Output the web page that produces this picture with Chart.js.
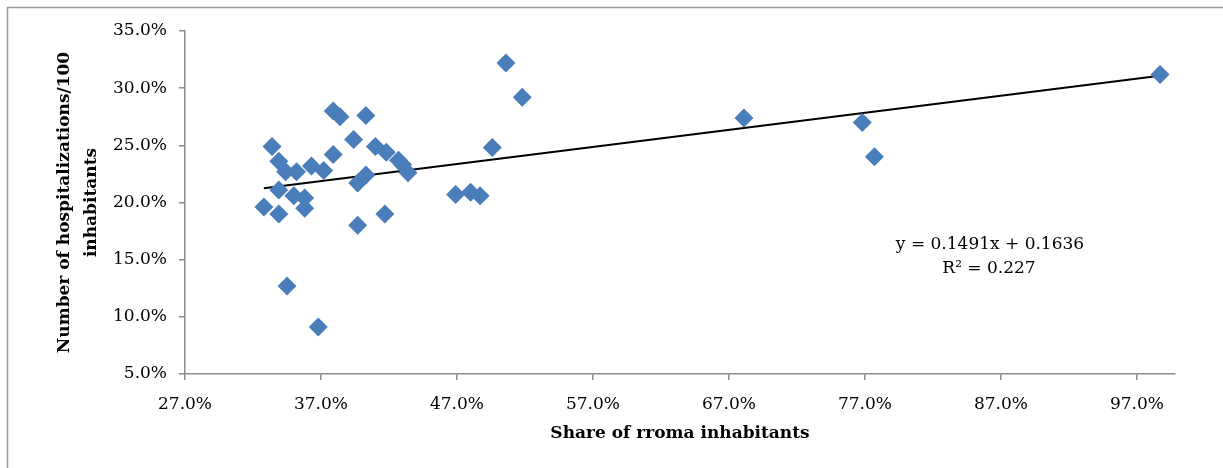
<html>
<head>
    <script src="https://cdn.jsdelivr.net/npm/chart.js@4.4.3/dist/chart.umd.min.js"></script>
    <style>
        body { margin: 0; background: #fff; overflow: hidden; }
        #wrap { width: 1223px; height: 468px; }
    </style>
</head>
<body>
    <div id="wrap"><canvas id="mychart" width="1223" height="468"></canvas></div>
    <script>
        // share of rroma inhabitants (x) and hospitalizations per 100 inhabitants (y)
        romaShare = [0.328, 0.334, 0.339, 0.339, 0.339, 0.344, 0.345, 0.350, 0.352, 0.358,
                     0.358, 0.363, 0.368, 0.372, 0.379, 0.379, 0.384, 0.394, 0.397, 0.397,
                     0.403, 0.403, 0.410, 0.417, 0.418, 0.427, 0.430, 0.434, 0.469, 0.480,
                     0.487, 0.496, 0.506, 0.518, 0.681, 0.768, 0.777, 0.987];
        hospRate = [0.196, 0.249, 0.236, 0.211, 0.190, 0.227, 0.127, 0.206, 0.227, 0.204,
                    0.195, 0.232, 0.091, 0.228, 0.280, 0.242, 0.275, 0.255, 0.180, 0.217,
                    0.224, 0.276, 0.249, 0.190, 0.244, 0.237, 0.233, 0.226, 0.207, 0.209,
                    0.206, 0.248, 0.322, 0.292, 0.274, 0.270, 0.240, 0.312];
        // linear trend line end points (y = 0.1491x + 0.1636)
        trendX = [0.328, 0.987];
        trendY = [0.2125, 0.3108];
        xTicks = [0.27, 0.37, 0.47, 0.57, 0.67, 0.77, 0.87, 0.97];
        yTicks = [0.05, 0.10, 0.15, 0.20, 0.25, 0.30, 0.35];
        eqText = ["y = 0.1491x + 0.1636", "R\u00b2 = 0.227"];

        points = romaShare.map(function (v, i) { return { x: v, y: hospRate[i] }; });
        trend = trendX.map(function (v, i) { return { x: v, y: trendY[i] }; });

        axisGrey = "#8c8c8c";
        serif = "'DejaVu Serif', serif";

        function pct(v) { return (v * 100).toFixed(1) + "%"; }

        extras = {
            id: "extras",
            beforeDraw: function (chart) {
                ctx = chart.ctx;
                ctx.save();
                ctx.strokeStyle = "#9a9a9a";
                ctx.lineWidth = 1.5;
                ctx.strokeRect(7.5, 7.5, 1400, 700);
                ctx.restore();
            },
            afterDraw: function (chart) {
                ctx = chart.ctx;
                ctx.save();
                ctx.fillStyle = "#000";
                ctx.font = "17px " + serif;
                ctx.textAlign = "center";
                ctx.textBaseline = "middle";
                ctx.fillText(eqText[0], 990, 245);
                ctx.fillText(eqText[1], 989, 269);
                ctx.restore();
            }
        };

        config = {
            type: "scatter",
            data: {
                datasets: [{
                    label: "hospitalizations",
                    data: points,
                    pointStyle: "rectRot",
                    pointRadius: 9.5,
                    pointHoverRadius: 9.5,
                    backgroundColor: "#4a7ebb",
                    borderColor: "#4a7ebb",
                    borderWidth: 0
                }, {
                    label: "trend",
                    type: "line",
                    data: trend,
                    showLine: true,
                    borderColor: "#000",
                    borderWidth: 2,
                    pointRadius: 0,
                    fill: false
                }]
            },
            options: {
                responsive: false,
                animation: false,
                layout: { padding: { left: 0, right: 48, top: 31, bottom: 0 } },
                plugins: { legend: { display: false }, tooltip: { enabled: false } },
                scales: {
                    x: {
                        type: "linear",
                        min: 0.27,
                        max: 0.998,
                        afterBuildTicks: function (s) { s.ticks = xTicks.map(function (v) { return { value: v }; }); },
                        afterFit: function (s) { s.height = 468 - 374; },
                        border: { display: true, color: axisGrey, width: 1.5 },
                        grid: { drawOnChartArea: false, drawTicks: true, tickLength: 6, color: axisGrey, lineWidth: 1.5 },
                        ticks: { callback: pct, color: "#000", font: { family: serif, size: 17 }, padding: 14, maxRotation: 0, autoSkip: false },
                        title: { display: true, text: "Share of rroma inhabitants", color: "#000",
                                 font: { family: serif, size: 17, weight: "bold" }, padding: { top: 0, bottom: 24 } }
                    },
                    y: {
                        type: "linear",
                        min: 0.05,
                        max: 0.35,
                        afterBuildTicks: function (s) { s.ticks = yTicks.map(function (v) { return { value: v }; }); },
                        afterFit: function (s) { s.width = 185; },
                        border: { display: true, color: axisGrey, width: 1.5 },
                        grid: { drawOnChartArea: false, drawTicks: true, tickLength: 6, color: axisGrey, lineWidth: 1.5 },
                        ticks: { callback: pct, color: "#000", font: { family: serif, size: 17 }, padding: 12 },
                        title: { display: true, text: ["Number of hospitalizations/100", "inhabitants"], color: "#000",
                                 font: { family: serif, size: 17, weight: "bold", lineHeight: 1.6 }, padding: { top: 51, bottom: 0 } }
                    }
                }
            },
            plugins: [extras]
        };
        new Chart(document.querySelector("#mychart"), config);
    </script>
</body>
</html>
